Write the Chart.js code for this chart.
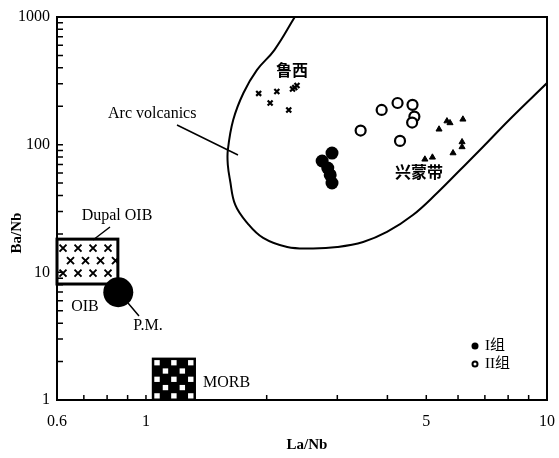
<!DOCTYPE html>
<html>
<head>
<meta charset="utf-8">
<script src="https://cdn.jsdelivr.net/npm/chart.js@4.4.0/dist/chart.umd.min.js"></script>
<style>
  body { margin: 0; background: #fff; }
  canvas { display: block; }
</style>
</head>
<body>
<canvas id="chart" width="559" height="458"></canvas>
<script>
// data (La/Nb on x, Ba/Nb on y)
const luxiLaNb = [1.91, 2.12, 2.04, 2.27, 2.32, 2.38, 2.35];
const luxiBaNb = [252, 261, 212, 187, 273, 291, 280];

const group1LaNb = [2.75, 2.91, 2.84, 2.88, 2.91];
const group1BaNb = [74.5, 86, 65.6, 57.9, 50.1];

const group2LaNb = [3.43, 3.87, 4.24, 4.62, 4.67, 4.61, 4.30];
const group2BaNb = [129, 187, 212, 205, 166, 149, 107];

const xingmengLaNb = [5.38, 5.63, 5.73, 6.17, 6.14, 6.14, 5.83, 4.96, 5.18];
const xingmengBaNb = [132, 153, 148, 158, 105, 96, 86, 76.8, 79.6];

// Arc volcanics field outline
const arcLaNb = [2.35, 2.09, 1.89, 1.75, 1.65, 1.60, 1.60, 1.62, 1.67, 1.79, 1.96, 2.25, 2.61, 3.00, 3.48, 3.99, 4.63, 5.32, 6.07, 6.92, 8.09, 10];
const arcBaNb = [1000, 551, 384, 254, 156, 90.8, 69.3, 52.9, 33.7, 24.3, 18.6, 15.8, 15.4, 15.8, 17.3, 20.7, 28.1, 41.8, 63.3, 95.9, 159, 304];

// reference compositions
const pmLaNb = [0.853];
const pmBaNb = [6.98];
const dupalLaNb = [0.6, 0.851];
const dupalBaNb = [8.1, 18.2];
const morbLaNb = [1.04, 1.325];
const morbBaNb = [1, 2.11];

const xTickVals = [0.6, 1, 5, 10];
const yTickVals = [1, 10, 100, 1000];

function pts(xs, ys) {
    return xs.map((v, i) => ({ x: v, y: ys[i] }));
}

const serif = '"Liberation Serif", "Noto Sans CJK SC", serif';
const cjk = '"Noto Sans CJK SC", sans-serif';

function boxPx(scX, scY, xs, ys) {
    const l = scX.getPixelForValue(xs[0]), r = scX.getPixelForValue(xs[1]);
    const b = scY.getPixelForValue(ys[0]), t = scY.getPixelForValue(ys[1]);
    return { l: l, t: t, w: r - l, h: b - t };
}

const extras = {
    id: 'extras',
    beforeDatasetsDraw(chart) {
        const ctx = chart.ctx;
        const sx = chart.scales.x, sy = chart.scales.y;
        ctx.save();

        // Dupal OIB box, crosses inside
        const d = boxPx(sx, sy, dupalLaNb, dupalBaNb);
        ctx.fillStyle = '#fff';
        ctx.fillRect(d.l, d.t, d.w, d.h);
        ctx.save();
        ctx.beginPath();
        ctx.rect(d.l, d.t, d.w, d.h);
        ctx.clip();
        ctx.strokeStyle = '#000';
        ctx.lineWidth = 2;
        for (let r = 0; r < 3; r++) {
            for (let c = 0; c < 4; c++) {
                const cx = d.l + 6 + 15 * c + (r % 2) * 7.5;
                const cy = d.t + 9 + 12.5 * r;
                ctx.beginPath();
                ctx.moveTo(cx - 3.5, cy - 3.5); ctx.lineTo(cx + 3.5, cy + 3.5);
                ctx.moveTo(cx + 3.5, cy - 3.5); ctx.lineTo(cx - 3.5, cy + 3.5);
                ctx.stroke();
            }
        }
        ctx.restore();
        ctx.lineWidth = 3;
        ctx.strokeStyle = '#000';
        ctx.strokeRect(d.l, d.t, d.w, d.h);

        // MORB box, checkerboard
        const m = boxPx(sx, sy, morbLaNb, morbBaNb);
        ctx.fillStyle = '#000';
        ctx.fillRect(m.l, m.t, m.w, m.h);
        const cw = m.w / 5, ch = m.h / 5;
        ctx.fillStyle = '#fff';
        for (let r = 0; r < 5; r++) {
            for (let c = 0; c < 5; c++) {
                if ((r + c) % 2 === 0) {
                    ctx.fillRect(m.l + c * cw + 1.5, m.t + r * ch + 1.5, cw - 3, ch - 3);
                }
            }
        }
        ctx.lineWidth = 2;
        ctx.strokeRect(m.l, m.t, m.w, m.h);
        ctx.restore();
    },
    afterDatasetsDraw(chart) {
        const ctx = chart.ctx;
        const a = chart.chartArea;
        const sx = chart.scales.x, sy = chart.scales.y;
        ctx.save();

        // frame
        ctx.strokeStyle = '#000';
        ctx.lineWidth = 2;
        ctx.strokeRect(a.left, a.top, a.right - a.left, a.bottom - a.top);

        // inward tick marks
        ctx.lineWidth = 1.5;
        ctx.beginPath();
        [1, 10, 100].forEach(dec => {
            for (let k = 1; k <= 9; k++) {
                const py = sy.getPixelForValue(dec * k);
                ctx.moveTo(a.left, py); ctx.lineTo(a.left + 6, py);
            }
        });
        [0.6, 0.7, 0.8, 0.9, 1, 2, 3, 4, 5, 6, 7, 8, 9, 10].forEach(v => {
            const px = sx.getPixelForValue(v);
            ctx.moveTo(px, a.bottom); ctx.lineTo(px, a.bottom - 5);
        });
        ctx.stroke();

        // pointer lines
        ctx.lineWidth = 1.5;
        ctx.beginPath();
        ctx.moveTo(177, 125); ctx.lineTo(238, 155);
        ctx.moveTo(110, 227); ctx.lineTo(93, 240);
        ctx.moveTo(128, 303); ctx.lineTo(139, 316);
        ctx.stroke();

        // labels
        ctx.fillStyle = '#000';
        ctx.textBaseline = 'middle';
        ctx.font = '16px ' + serif;
        ctx.textAlign = 'left';
        ctx.fillText('Arc volcanics', 108, 114);
        ctx.fillText('MORB', 203, 383);
        ctx.textAlign = 'center';
        ctx.fillText('Dupal OIB', 117, 216);
        ctx.fillText('OIB', 85, 307);
        ctx.fillText('P.M.', 148, 326);

        ctx.font = 'bold 16px ' + cjk;
        ctx.fillText('鲁西', 292, 70);
        ctx.fillText('兴蒙带', 419, 172);

        // legend
        ctx.beginPath();
        ctx.arc(475, 346, 3.5, 0, Math.PI * 2);
        ctx.fill();
        ctx.beginPath();
        ctx.arc(475, 364, 2.5, 0, Math.PI * 2);
        ctx.lineWidth = 2;
        ctx.stroke();
        ctx.textAlign = 'left';
        ctx.font = '15px ' + serif;
        ctx.fillText('I组', 485, 346);
        ctx.fillText('II组', 485, 364);

        // axis titles
        ctx.font = 'bold 15px ' + serif;
        ctx.textAlign = 'center';
        ctx.fillText('La/Nb', 307, 445);
        ctx.translate(17, 233);
        ctx.rotate(-Math.PI / 2);
        ctx.fillText('Ba/Nb', 0, 0);
        ctx.restore();
    }
};

new Chart(document.getElementById('chart'), {
    type: 'scatter',
    data: {
        datasets: [
            {
                label: 'Arc volcanics',
                data: pts(arcLaNb, arcBaNb),
                showLine: true,
                borderColor: '#000',
                borderWidth: 2,
                pointRadius: 0,
                tension: 0.4,
                fill: false
            },
            {
                label: '鲁西',
                data: pts(luxiLaNb, luxiBaNb),
                pointStyle: 'crossRot',
                pointRadius: 3.5,
                borderColor: '#000',
                borderWidth: 2.2
            },
            {
                label: 'I组',
                data: pts(group1LaNb, group1BaNb),
                pointStyle: 'circle',
                pointRadius: 6.5,
                backgroundColor: '#000',
                borderColor: '#000',
                borderWidth: 0
            },
            {
                label: 'II组',
                data: pts(group2LaNb, group2BaNb),
                pointStyle: 'circle',
                pointRadius: 5,
                backgroundColor: '#fff',
                borderColor: '#000',
                borderWidth: 2.2
            },
            {
                label: '兴蒙带',
                data: pts(xingmengLaNb, xingmengBaNb),
                pointStyle: 'triangle',
                pointRadius: 3.5,
                backgroundColor: '#000',
                borderColor: '#000',
                borderWidth: 1
            },
            {
                label: 'P.M.',
                data: pts(pmLaNb, pmBaNb),
                pointStyle: 'circle',
                pointRadius: 15,
                backgroundColor: '#000',
                borderColor: '#000',
                borderWidth: 0
            }
        ]
    },
    options: {
        responsive: false,
        animation: false,
        layout: { autoPadding: false, padding: { left: 0, top: 17, right: 12, bottom: 0 } },
        plugins: {
            legend: { display: false },
            tooltip: { enabled: false }
        },
        scales: {
            x: {
                type: 'logarithmic',
                min: 0.6,
                max: 10,
                afterBuildTicks: s => { s.ticks = xTickVals.map(v => ({ value: v })); },
                afterFit: s => { s.height = 58; s.paddingLeft = 0; s.paddingRight = 0; },
                grid: { display: false, drawTicks: false },
                border: { display: false },
                ticks: {
                    padding: 12,
                    autoSkip: false,
                    maxRotation: 0,
                    color: '#000',
                    font: { family: serif, size: 16 },
                    callback: v => String(v)
                }
            },
            y: {
                type: 'logarithmic',
                min: 1,
                max: 1000,
                afterBuildTicks: s => { s.ticks = yTickVals.map(v => ({ value: v })); },
                afterFit: s => { s.width = 57; },
                grid: { display: false, drawTicks: false },
                border: { display: false },
                ticks: {
                    padding: 7,
                    autoSkip: false,
                    color: '#000',
                    font: { family: serif, size: 16 },
                    callback: v => String(v)
                }
            }
        }
    },
    plugins: [extras]
});
</script>
</body>
</html>
